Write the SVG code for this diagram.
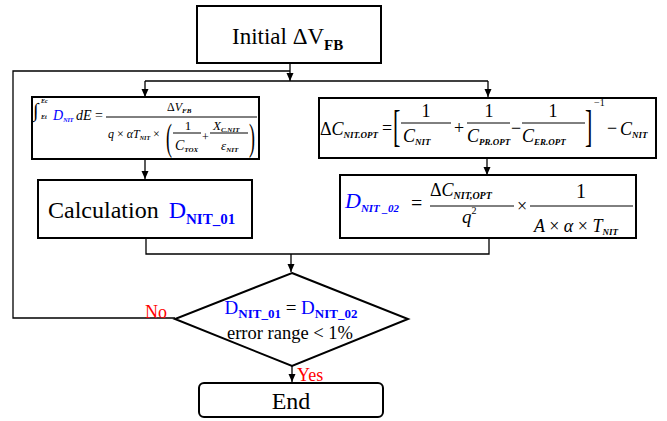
<svg xmlns="http://www.w3.org/2000/svg" width="667" height="421" viewBox="0 0 667 421">
<defs>
<marker id="arr" markerUnits="userSpaceOnUse" markerWidth="8" markerHeight="8" refX="8" refY="3.5" orient="auto">
<path d="M0,0 L8,3.5 L0,7 z" fill="#000"/>
</marker>
<style>
.box{fill:#fff;stroke:#000;stroke-width:2}
.conn{fill:none;stroke:#000;stroke-width:1.3}
.arrow{marker-end:url(#arr)}
text{font-family:"Liberation Serif","DejaVu Serif",serif;fill:#000}
.i{font-style:italic}
.bl{fill:#0000ff}
.rd{fill:#ff0000}
.bd{font-weight:bold}
.fl{stroke:#000;stroke-width:1}
</style>
</defs>
<rect width="667" height="421" fill="#fff"/>

<g id="connectors">
<line class="conn arrow" x1="290" y1="63" x2="290" y2="81"/>
<polyline class="conn" points="175,318 13,318 13,71 290,71"/>
<line class="conn" x1="145" y1="81" x2="488" y2="81"/>
<line class="conn arrow" x1="145" y1="81" x2="145" y2="97"/>
<line class="conn arrow" x1="488" y1="81" x2="488" y2="97"/>
<line class="conn arrow" x1="145" y1="159" x2="145" y2="179"/>
<line class="conn arrow" x1="487" y1="158" x2="487" y2="175"/>
<polyline class="conn" points="146,238 146,254 489,254 489,238"/>
<line class="conn arrow" x1="291" y1="254" x2="291" y2="272"/>
<line class="conn arrow" x1="292" y1="366" x2="292" y2="382"/>
<text class="rd" x="145" y="318" font-size="18" font-family="Liberation Serif, DejaVu Serif, serif">No</text>
<text class="rd" x="297" y="381" font-size="18" font-family="Liberation Serif, DejaVu Serif, serif">Yes</text>
</g>

<g id="init">
<rect class="box" x="197" y="6" width="184" height="57"/>
<text x="232" y="44" font-size="23" font-family="Liberation Serif, DejaVu Serif, serif">Initial ΔV<tspan font-size="15" font-weight="bold" dy="6">FB</tspan></text>
</g>

<g id="formula1" font-family="Liberation Serif, DejaVu Serif, serif">
<rect class="box" x="32" y="97" width="227" height="62"/>
<text x="33" y="117" font-size="20">∫</text>
<text class="i bd" x="41" y="103" font-size="6">Ec</text>
<text class="i bd" x="41" y="119" font-size="6">Et</text>
<text class="i bl" x="53" y="120" font-size="14">D<tspan font-size="6" font-weight="bold" dy="2">NIT</tspan></text>
<text class="i" x="76" y="120" font-size="14">dE</text>
<text x="95" y="120" font-size="14">=</text>
<line class="fl" x1="106" y1="117" x2="257" y2="117"/>
<text x="167" y="111" font-size="12">Δ<tspan class="i">V</tspan><tspan class="i bd" font-size="7" dy="2">FB</tspan></text>
<text class="i" x="108" y="138" font-size="12">q <tspan font-style="normal">×</tspan> αT<tspan font-size="6" font-weight="bold" dy="2">NIT</tspan><tspan font-style="normal" dy="-2"> ×</tspan></text>
<text transform="translate(166,150) scale(0.47,1)" font-size="38">(</text>
<text x="188" y="130" font-size="13" text-anchor="middle">1</text>
<line class="fl" x1="173" y1="133" x2="201" y2="133"/>
<text class="i" x="175" y="150" font-size="14">C<tspan font-size="7" font-weight="bold" dy="2">TOX</tspan></text>
<text x="202" y="141" font-size="12">+</text>
<text class="i" x="213" y="130" font-size="13">X<tspan font-size="7" font-weight="bold" dy="2">C.NIT</tspan></text>
<line class="fl" x1="210" y1="133" x2="248" y2="133"/>
<text class="i" x="221" y="150" font-size="13">ε<tspan font-size="7" font-weight="bold" dy="2">NIT</tspan></text>
<text transform="translate(249,150) scale(0.47,1)" font-size="38">)</text>
</g>

<g id="calc1">
<rect class="box" x="38" y="180" width="214" height="58"/>
<text x="48" y="218" font-size="24" font-family="Liberation Serif, DejaVu Serif, serif">Calculation <tspan class="bl" dx="4">D</tspan><tspan class="bl bd" font-size="15" dy="6">NIT_01</tspan></text>
</g>

<g id="formula2" font-family="Liberation Serif, DejaVu Serif, serif">
<rect class="box" x="319" y="98" width="337" height="60"/>
<text x="320" y="135" font-size="18">Δ<tspan class="i">C</tspan><tspan class="i bd" font-size="9" dy="3">NIT.OPT</tspan></text>
<text x="382" y="134" font-size="18">=</text>
<text transform="translate(393,141) scale(0.5,1)" font-size="44">[</text>
<text x="426" y="117" font-size="18" text-anchor="middle">1</text>
<line class="fl" x1="401" y1="123" x2="451" y2="123"/>
<text class="i" x="403" y="142" font-size="18">C<tspan class="bd" font-size="9" dy="3">NIT</tspan></text>
<text x="454" y="134" font-size="18">+</text>
<text x="489" y="117" font-size="18" text-anchor="middle">1</text>
<line class="fl" x1="467" y1="123" x2="510" y2="123"/>
<text class="i" x="467" y="142" font-size="18">C<tspan class="bd" font-size="9" dy="3">PR.OPT</tspan></text>
<text x="511" y="134" font-size="18">−</text>
<text x="553" y="117" font-size="18" text-anchor="middle">1</text>
<line class="fl" x1="522" y1="123" x2="585" y2="123"/>
<text class="i" x="522" y="142" font-size="18">C<tspan class="bd" font-size="9" dy="3">ER.OPT</tspan></text>
<text transform="translate(585,141) scale(0.5,1)" font-size="44">]</text>
<text x="594" y="106" font-size="10">−1</text>
<text x="607" y="134" font-size="18">−</text>
<text class="i" x="620" y="135" font-size="18">C<tspan class="bd" font-size="9" dy="3">NIT</tspan></text>
</g>

<g id="calc2" font-family="Liberation Serif, DejaVu Serif, serif">
<rect class="box" x="340" y="175" width="296" height="63"/>
<text class="i bl" x="345" y="208" font-size="22">D<tspan font-size="11" font-weight="bold" dy="4">NIT _02</tspan></text>
<text x="411" y="210" font-size="20">=</text>
<text x="430" y="196" font-size="18">Δ<tspan class="i">C</tspan><tspan class="i bd" font-size="10" dy="3">NIT,OPT</tspan></text>
<line class="fl" x1="430" y1="206" x2="514" y2="206"/>
<text class="i" x="462" y="223" font-size="19">q<tspan font-style="normal" font-size="10" dy="-9">2</tspan></text>
<text x="517" y="212" font-size="18">×</text>
<text x="581" y="198" font-size="20" text-anchor="middle">1</text>
<line class="fl" x1="530" y1="206" x2="633" y2="206"/>
<text class="i" x="534" y="232" font-size="18">A <tspan font-style="normal">×</tspan> α <tspan font-style="normal">×</tspan> T<tspan class="bd" font-size="9" dy="3">NIT</tspan></text>
</g>

<g id="decision" font-family="Liberation Serif, DejaVu Serif, serif">
<polygon points="292,273 408,319 292,366 175,319" fill="#fff" stroke="#000" stroke-width="2"/>
<text x="291" y="314" font-size="19" text-anchor="middle"><tspan class="bl">D</tspan><tspan class="bl bd" font-size="13" dy="4">NIT_01</tspan><tspan dy="-4"> = </tspan><tspan class="bl">D</tspan><tspan class="bl bd" font-size="13" dy="4">NIT_02</tspan></text>
<text x="290" y="339" font-size="18.5" text-anchor="middle">error range &lt; 1%</text>
</g>

<g id="end">
<rect class="box" x="199" y="383" width="184" height="34" rx="5" ry="5"/>
<text x="291" y="409" font-size="24" text-anchor="middle" font-family="Liberation Serif, DejaVu Serif, serif">End</text>
</g>
</svg>
